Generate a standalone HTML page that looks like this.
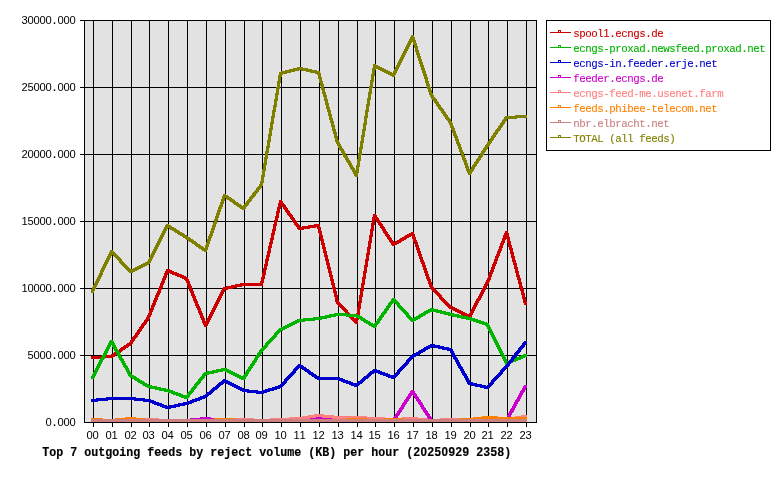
<!DOCTYPE html>
<html><head><meta charset="utf-8"><title>Top 7 outgoing feeds by reject volume</title>
<style>
html,body{margin:0;padding:0;background:#fff;}
body{width:780px;height:480px;overflow:hidden;font-family:"Liberation Mono",monospace;}
svg{display:block;will-change:transform;}
text{font-family:"Liberation Mono",monospace;}
.lbl{font-size:10px;fill:#000;}
.leg{font-size:10px;}
.ttl{font-size:11.667px;font-weight:bold;fill:#000;}
.sans{font-family:"Liberation Sans",sans-serif;}
.lbl .sans{font-size:11.2px;}
</style></head><body>
<svg width="780" height="480" viewBox="0 0 780 480">
<rect x="0" y="0" width="780" height="480" fill="#ffffff"/>
<rect x="84" y="20" width="453" height="403" fill="#e2e2e2"/>
<g stroke="#000" stroke-width="1" shape-rendering="crispEdges" fill="none">
<line x1="84" y1="422.5" x2="537" y2="422.5"/>
<line x1="80" y1="355.5" x2="537" y2="355.5"/>
<line x1="80" y1="288.5" x2="537" y2="288.5"/>
<line x1="80" y1="221.5" x2="537" y2="221.5"/>
<line x1="80" y1="154.5" x2="537" y2="154.5"/>
<line x1="80" y1="87.5" x2="537" y2="87.5"/>
<line x1="80" y1="20.5" x2="537" y2="20.5"/>
<line x1="93.5" y1="20" x2="93.5" y2="427"/>
<line x1="112.5" y1="20" x2="112.5" y2="427"/>
<line x1="131.5" y1="20" x2="131.5" y2="427"/>
<line x1="149.5" y1="20" x2="149.5" y2="427"/>
<line x1="168.5" y1="20" x2="168.5" y2="427"/>
<line x1="187.5" y1="20" x2="187.5" y2="427"/>
<line x1="206.5" y1="20" x2="206.5" y2="427"/>
<line x1="225.5" y1="20" x2="225.5" y2="427"/>
<line x1="244.5" y1="20" x2="244.5" y2="427"/>
<line x1="262.5" y1="20" x2="262.5" y2="427"/>
<line x1="281.5" y1="20" x2="281.5" y2="427"/>
<line x1="300.5" y1="20" x2="300.5" y2="427"/>
<line x1="319.5" y1="20" x2="319.5" y2="427"/>
<line x1="338.5" y1="20" x2="338.5" y2="427"/>
<line x1="357.5" y1="20" x2="357.5" y2="427"/>
<line x1="375.5" y1="20" x2="375.5" y2="427"/>
<line x1="394.5" y1="20" x2="394.5" y2="427"/>
<line x1="413.5" y1="20" x2="413.5" y2="427"/>
<line x1="432.5" y1="20" x2="432.5" y2="427"/>
<line x1="451.5" y1="20" x2="451.5" y2="427"/>
<line x1="470.5" y1="20" x2="470.5" y2="427"/>
<line x1="488.5" y1="20" x2="488.5" y2="427"/>
<line x1="507.5" y1="20" x2="507.5" y2="427"/>
<line x1="526.5" y1="20" x2="526.5" y2="427"/>
<line x1="84.5" y1="20" x2="84.5" y2="423"/>
<line x1="536.5" y1="20" x2="536.5" y2="423"/>
</g>
<text class="lbl" y="0" transform="translate(0,425.5)" text-anchor="middle"><tspan class="sans" x="48.5">0</tspan><tspan font-weight="bold" x="54.5">.</tspan><tspan class="sans" x="60.5 66.5 72.5">000</tspan></text>
<text class="lbl" y="0" transform="translate(0,358.5)" text-anchor="middle"><tspan class="sans" x="30.5 36.5 42.5 48.5">5000</tspan><tspan font-weight="bold" x="54.5">.</tspan><tspan class="sans" x="60.5 66.5 72.5">000</tspan></text>
<text class="lbl" y="0" transform="translate(0,291.5)" text-anchor="middle"><tspan class="sans" x="24.5 30.5 36.5 42.5 48.5">10000</tspan><tspan font-weight="bold" x="54.5">.</tspan><tspan class="sans" x="60.5 66.5 72.5">000</tspan></text>
<text class="lbl" y="0" transform="translate(0,224.5)" text-anchor="middle"><tspan class="sans" x="24.5 30.5 36.5 42.5 48.5">15000</tspan><tspan font-weight="bold" x="54.5">.</tspan><tspan class="sans" x="60.5 66.5 72.5">000</tspan></text>
<text class="lbl" y="0" transform="translate(0,157.5)" text-anchor="middle"><tspan class="sans" x="24.5 30.5 36.5 42.5 48.5">20000</tspan><tspan font-weight="bold" x="54.5">.</tspan><tspan class="sans" x="60.5 66.5 72.5">000</tspan></text>
<text class="lbl" y="0" transform="translate(0,90.5)" text-anchor="middle"><tspan class="sans" x="24.5 30.5 36.5 42.5 48.5">25000</tspan><tspan font-weight="bold" x="54.5">.</tspan><tspan class="sans" x="60.5 66.5 72.5">000</tspan></text>
<text class="lbl" y="0" transform="translate(0,23.5)" text-anchor="middle"><tspan class="sans" x="24.5 30.5 36.5 42.5 48.5">30000</tspan><tspan font-weight="bold" x="54.5">.</tspan><tspan class="sans" x="60.5 66.5 72.5">000</tspan></text>
<text class="lbl" y="0" transform="translate(0,439)" text-anchor="middle"><tspan class="sans" x="89.7 95.7">00</tspan></text>
<text class="lbl" y="0" transform="translate(0,439)" text-anchor="middle"><tspan class="sans" x="108.7 114.7">01</tspan></text>
<text class="lbl" y="0" transform="translate(0,439)" text-anchor="middle"><tspan class="sans" x="127.7 133.7">02</tspan></text>
<text class="lbl" y="0" transform="translate(0,439)" text-anchor="middle"><tspan class="sans" x="145.7 151.7">03</tspan></text>
<text class="lbl" y="0" transform="translate(0,439)" text-anchor="middle"><tspan class="sans" x="164.7 170.7">04</tspan></text>
<text class="lbl" y="0" transform="translate(0,439)" text-anchor="middle"><tspan class="sans" x="183.7 189.7">05</tspan></text>
<text class="lbl" y="0" transform="translate(0,439)" text-anchor="middle"><tspan class="sans" x="202.7 208.7">06</tspan></text>
<text class="lbl" y="0" transform="translate(0,439)" text-anchor="middle"><tspan class="sans" x="221.7 227.7">07</tspan></text>
<text class="lbl" y="0" transform="translate(0,439)" text-anchor="middle"><tspan class="sans" x="240.7 246.7">08</tspan></text>
<text class="lbl" y="0" transform="translate(0,439)" text-anchor="middle"><tspan class="sans" x="258.7 264.7">09</tspan></text>
<text class="lbl" y="0" transform="translate(0,439)" text-anchor="middle"><tspan class="sans" x="277.7 283.7">10</tspan></text>
<text class="lbl" y="0" transform="translate(0,439)" text-anchor="middle"><tspan class="sans" x="296.7 302.7">11</tspan></text>
<text class="lbl" y="0" transform="translate(0,439)" text-anchor="middle"><tspan class="sans" x="315.7 321.7">12</tspan></text>
<text class="lbl" y="0" transform="translate(0,439)" text-anchor="middle"><tspan class="sans" x="334.7 340.7">13</tspan></text>
<text class="lbl" y="0" transform="translate(0,439)" text-anchor="middle"><tspan class="sans" x="353.7 359.7">14</tspan></text>
<text class="lbl" y="0" transform="translate(0,439)" text-anchor="middle"><tspan class="sans" x="371.7 377.7">15</tspan></text>
<text class="lbl" y="0" transform="translate(0,439)" text-anchor="middle"><tspan class="sans" x="390.7 396.7">16</tspan></text>
<text class="lbl" y="0" transform="translate(0,439)" text-anchor="middle"><tspan class="sans" x="409.7 415.7">17</tspan></text>
<text class="lbl" y="0" transform="translate(0,439)" text-anchor="middle"><tspan class="sans" x="428.7 434.7">18</tspan></text>
<text class="lbl" y="0" transform="translate(0,439)" text-anchor="middle"><tspan class="sans" x="447.7 453.7">19</tspan></text>
<text class="lbl" y="0" transform="translate(0,439)" text-anchor="middle"><tspan class="sans" x="466.7 472.7">20</tspan></text>
<text class="lbl" y="0" transform="translate(0,439)" text-anchor="middle"><tspan class="sans" x="484.7 490.7">21</tspan></text>
<text class="lbl" y="0" transform="translate(0,439)" text-anchor="middle"><tspan class="sans" x="503.7 509.7">22</tspan></text>
<text class="lbl" y="0" transform="translate(0,439)" text-anchor="middle"><tspan class="sans" x="522.7 528.7">23</tspan></text>
<path d="M91.5 356L110.5 355L112.5 355L112.5 358L93.5 359L91.5 359ZM110.5 355L129.5 342L131.5 342L131.5 345L112.5 358L110.5 358ZM129 342.5L147 316.5L150 316.5L150 318.5L132 344.5L129 344.5ZM147 316.5L166 269.5L169 269.5L169 271.5L150 318.5L147 318.5ZM166.5 269L168.5 269L187.5 277L187.5 280L185.5 280L166.5 272ZM185 277.5L188 277.5L207 324.5L207 326.5L204 326.5L185 279.5ZM204 324.5L223 287.5L226 287.5L226 289.5L207 326.5L204 326.5ZM223.5 287L242.5 283L244.5 283L244.5 286L225.5 290L223.5 290ZM242.5 283L262.5 283L262.5 286L242.5 286ZM260 283.5L279 200.5L282 200.5L282 202.5L263 285.5L260 285.5ZM279 200.5L282 200.5L301 227.5L301 229.5L298 229.5L279 202.5ZM298.5 227L317.5 224L319.5 224L319.5 227L300.5 230L298.5 230ZM317 224.5L320 224.5L339 301.5L339 303.5L336 303.5L317 226.5ZM336 301.5L339 301.5L358 321.5L358 323.5L355 323.5L336 303.5ZM355 321.5L373 214.5L376 214.5L376 216.5L358 323.5L355 323.5ZM373 214.5L376 214.5L395 243.5L395 245.5L392 245.5L373 216.5ZM392.5 243L411.5 232L413.5 232L413.5 235L394.5 246L392.5 246ZM411 232.5L414 232.5L433 286.5L433 288.5L430 288.5L411 234.5ZM430 286.5L433 286.5L452 306.5L452 308.5L449 308.5L430 288.5ZM449.5 306L451.5 306L470.5 315L470.5 318L468.5 318L449.5 309ZM468 315.5L486 281.5L489 281.5L489 283.5L471 317.5L468 317.5ZM486 281.5L505 231.5L508 231.5L508 233.5L489 283.5L486 283.5ZM505 231.5L508 231.5L527 302.5L527 304.5L524 304.5L505 233.5ZM91 356h3v3h-3ZM110 355h3v3h-3ZM129 342h3v3h-3ZM147 316h3v3h-3ZM166 269h3v3h-3ZM185 277h3v3h-3ZM204 324h3v3h-3ZM223 287h3v3h-3ZM242 283h3v3h-3ZM260 283h3v3h-3ZM279 200h3v3h-3ZM298 227h3v3h-3ZM317 224h3v3h-3ZM336 301h3v3h-3ZM355 321h3v3h-3ZM373 214h3v3h-3ZM392 243h3v3h-3ZM411 232h3v3h-3ZM430 286h3v3h-3ZM449 306h3v3h-3ZM468 315h3v3h-3ZM486 281h3v3h-3ZM505 231h3v3h-3ZM524 302h3v3h-3Z" fill="#cc0000" shape-rendering="crispEdges"/>
<path d="M91 376.5L110 340.5L113 340.5L113 342.5L94 378.5L91 378.5ZM110 340.5L113 340.5L132 374.5L132 376.5L129 376.5L110 342.5ZM129.5 374L131.5 374L149.5 385L149.5 388L147.5 388L129.5 377ZM147.5 385L149.5 385L168.5 389L168.5 392L166.5 392L147.5 388ZM166.5 389L168.5 389L187.5 396L187.5 399L185.5 399L166.5 392ZM185 396.5L204 372.5L207 372.5L207 374.5L188 398.5L185 398.5ZM204.5 372L223.5 368L225.5 368L225.5 371L206.5 375L204.5 375ZM223.5 368L225.5 368L244.5 377L244.5 380L242.5 380L223.5 371ZM242 377.5L260 349.5L263 349.5L263 351.5L245 379.5L242 379.5ZM260 349.5L279 328.5L282 328.5L282 330.5L263 351.5L260 351.5ZM279.5 328L298.5 319L300.5 319L300.5 322L281.5 331L279.5 331ZM298.5 319L317.5 317L319.5 317L319.5 320L300.5 322L298.5 322ZM317.5 317L336.5 313L338.5 313L338.5 316L319.5 320L317.5 320ZM336.5 313L338.5 313L357.5 314L357.5 317L355.5 317L336.5 316ZM355.5 314L357.5 314L375.5 325L375.5 328L373.5 328L355.5 317ZM373 325.5L392 298.5L395 298.5L395 300.5L376 327.5L373 327.5ZM392 298.5L395 298.5L414 319.5L414 321.5L411 321.5L392 300.5ZM411.5 319L430.5 308L432.5 308L432.5 311L413.5 322L411.5 322ZM430.5 308L432.5 308L451.5 313L451.5 316L449.5 316L430.5 311ZM449.5 313L451.5 313L470.5 317L470.5 320L468.5 320L449.5 316ZM468.5 317L470.5 317L488.5 323L488.5 326L486.5 326L468.5 320ZM486 323.5L489 323.5L508 362.5L508 364.5L505 364.5L486 325.5ZM505.5 362L524.5 354L526.5 354L526.5 357L507.5 365L505.5 365ZM91 376h3v3h-3ZM110 340h3v3h-3ZM129 374h3v3h-3ZM147 385h3v3h-3ZM166 389h3v3h-3ZM185 396h3v3h-3ZM204 372h3v3h-3ZM223 368h3v3h-3ZM242 377h3v3h-3ZM260 349h3v3h-3ZM279 328h3v3h-3ZM298 319h3v3h-3ZM317 317h3v3h-3ZM336 313h3v3h-3ZM355 314h3v3h-3ZM373 325h3v3h-3ZM392 298h3v3h-3ZM411 319h3v3h-3ZM430 308h3v3h-3ZM449 313h3v3h-3ZM468 317h3v3h-3ZM486 323h3v3h-3ZM505 362h3v3h-3ZM524 354h3v3h-3Z" fill="#00b400" shape-rendering="crispEdges"/>
<path d="M91.5 399L110.5 397L112.5 397L112.5 400L93.5 402L91.5 402ZM110.5 397L131.5 397L131.5 400L110.5 400ZM129.5 397L131.5 397L149.5 399L149.5 402L147.5 402L129.5 400ZM147.5 399L149.5 399L168.5 406L168.5 409L166.5 409L147.5 402ZM166.5 406L185.5 402L187.5 402L187.5 405L168.5 409L166.5 409ZM185.5 402L204.5 395L206.5 395L206.5 398L187.5 405L185.5 405ZM204.5 395L223.5 379L225.5 379L225.5 382L206.5 398L204.5 398ZM223.5 379L225.5 379L244.5 389L244.5 392L242.5 392L223.5 382ZM242.5 389L244.5 389L262.5 391L262.5 394L260.5 394L242.5 392ZM260.5 391L279.5 385L281.5 385L281.5 388L262.5 394L260.5 394ZM279 385.5L298 364.5L301 364.5L301 366.5L282 387.5L279 387.5ZM298.5 364L300.5 364L319.5 377L319.5 380L317.5 380L298.5 367ZM317.5 377L338.5 377L338.5 380L317.5 380ZM336.5 377L338.5 377L357.5 384L357.5 387L355.5 387L336.5 380ZM355.5 384L373.5 369L375.5 369L375.5 372L357.5 387L355.5 387ZM373.5 369L375.5 369L394.5 376L394.5 379L392.5 379L373.5 372ZM392 376.5L411 355.5L414 355.5L414 357.5L395 378.5L392 378.5ZM411.5 355L430.5 344L432.5 344L432.5 347L413.5 358L411.5 358ZM430.5 344L432.5 344L451.5 348L451.5 351L449.5 351L430.5 347ZM449 348.5L452 348.5L471 382.5L471 384.5L468 384.5L449 350.5ZM468.5 382L470.5 382L488.5 386L488.5 389L486.5 389L468.5 385ZM486 386.5L505 365.5L508 365.5L508 367.5L489 388.5L486 388.5ZM505 365.5L524 341.5L527 341.5L527 343.5L508 367.5L505 367.5ZM91 399h3v3h-3ZM110 397h3v3h-3ZM129 397h3v3h-3ZM147 399h3v3h-3ZM166 406h3v3h-3ZM185 402h3v3h-3ZM204 395h3v3h-3ZM223 379h3v3h-3ZM242 389h3v3h-3ZM260 391h3v3h-3ZM279 385h3v3h-3ZM298 364h3v3h-3ZM317 377h3v3h-3ZM336 377h3v3h-3ZM355 384h3v3h-3ZM373 369h3v3h-3ZM392 376h3v3h-3ZM411 355h3v3h-3ZM430 344h3v3h-3ZM449 348h3v3h-3ZM468 382h3v3h-3ZM486 386h3v3h-3ZM505 365h3v3h-3ZM524 341h3v3h-3Z" fill="#0000cc" shape-rendering="crispEdges"/>
<path d="M91.5 419L112.5 419L112.5 422L91.5 422ZM110.5 419L131.5 419L131.5 422L110.5 422ZM129.5 419L149.5 419L149.5 422L129.5 422ZM147.5 419L168.5 419L168.5 422L147.5 422ZM166.5 419L187.5 419L187.5 422L166.5 422ZM185.5 419L204.5 417L206.5 417L206.5 420L187.5 422L185.5 422ZM204.5 417L206.5 417L225.5 419L225.5 422L223.5 422L204.5 420ZM223.5 419L244.5 419L244.5 422L223.5 422ZM242.5 419L262.5 419L262.5 422L242.5 422ZM260.5 419L281.5 419L281.5 422L260.5 422ZM279.5 419L300.5 419L300.5 422L279.5 422ZM298.5 419L317.5 417L319.5 417L319.5 420L300.5 422L298.5 422ZM317.5 417L319.5 417L338.5 418L338.5 421L336.5 421L317.5 420ZM336.5 418L338.5 418L357.5 419L357.5 422L355.5 422L336.5 421ZM355.5 419L375.5 419L375.5 422L355.5 422ZM373.5 419L394.5 419L394.5 422L373.5 422ZM392 419.5L411 390.5L414 390.5L414 392.5L395 421.5L392 421.5ZM411 390.5L414 390.5L433 419.5L433 421.5L430 421.5L411 392.5ZM430.5 419L451.5 419L451.5 422L430.5 422ZM449.5 419L470.5 419L470.5 422L449.5 422ZM468.5 419L488.5 419L488.5 422L468.5 422ZM486.5 419L507.5 419L507.5 422L486.5 422ZM505 419.5L524 385L527 385L527 387L508 421.5L505 421.5ZM91 419h3v3h-3ZM110 419h3v3h-3ZM129 419h3v3h-3ZM147 419h3v3h-3ZM166 419h3v3h-3ZM185 419h3v3h-3ZM204 417h3v3h-3ZM223 419h3v3h-3ZM242 419h3v3h-3ZM260 419h3v3h-3ZM279 419h3v3h-3ZM298 419h3v3h-3ZM317 417h3v3h-3ZM336 418h3v3h-3ZM355 419h3v3h-3ZM373 419h3v3h-3ZM392 419h3v3h-3ZM411 390h3v3h-3ZM430 419h3v3h-3ZM449 419h3v3h-3ZM468 419h3v3h-3ZM486 419h3v3h-3ZM505 419h3v3h-3ZM524 384.5h3v3h-3Z" fill="#cc00cc" shape-rendering="crispEdges"/>
<path d="M91.5 419L112.5 419L112.5 422L91.5 422ZM110.5 419L129.5 418L131.5 418L131.5 421L112.5 422L110.5 422ZM129.5 418L149.5 418L149.5 421L129.5 421ZM147.5 418L149.5 418L168.5 419L168.5 422L166.5 422L147.5 421ZM166.5 419L187.5 419L187.5 422L166.5 422ZM185.5 419L206.5 419L206.5 422L185.5 422ZM204.5 419L225.5 419L225.5 422L204.5 422ZM223.5 419L242.5 418L244.5 418L244.5 421L225.5 422L223.5 422ZM242.5 418L244.5 418L262.5 419L262.5 422L260.5 422L242.5 421ZM260.5 419L279.5 418L281.5 418L281.5 421L262.5 422L260.5 422ZM279.5 418L298.5 417L300.5 417L300.5 420L281.5 421L279.5 421ZM298.5 417L317.5 414L319.5 414L319.5 417L300.5 420L298.5 420ZM317.5 414L319.5 414L338.5 416L338.5 419L336.5 419L317.5 417ZM336.5 416L357.5 416L357.5 419L336.5 419ZM355.5 416L357.5 416L375.5 417L375.5 420L373.5 420L355.5 419ZM373.5 417L375.5 417L394.5 418L394.5 421L392.5 421L373.5 420ZM392.5 418L411.5 417L413.5 417L413.5 420L394.5 421L392.5 421ZM411.5 417L413.5 417L432.5 419L432.5 422L430.5 422L411.5 420ZM430.5 419L449.5 418L451.5 418L451.5 421L432.5 422L430.5 422ZM449.5 418L451.5 418L470.5 419L470.5 422L468.5 422L449.5 421ZM468.5 419L488.5 419L488.5 422L468.5 422ZM486.5 419L505.5 418L507.5 418L507.5 421L488.5 422L486.5 422ZM505.5 418L524.5 415L526.5 415L526.5 418L507.5 421L505.5 421ZM91 419h3v3h-3ZM110 419h3v3h-3ZM129 418h3v3h-3ZM147 418h3v3h-3ZM166 419h3v3h-3ZM185 419h3v3h-3ZM204 419h3v3h-3ZM223 419h3v3h-3ZM242 418h3v3h-3ZM260 419h3v3h-3ZM279 418h3v3h-3ZM298 417h3v3h-3ZM317 414h3v3h-3ZM336 416h3v3h-3ZM355 416h3v3h-3ZM373 417h3v3h-3ZM392 418h3v3h-3ZM411 417h3v3h-3ZM430 419h3v3h-3ZM449 418h3v3h-3ZM468 419h3v3h-3ZM486 419h3v3h-3ZM505 418h3v3h-3ZM524 415h3v3h-3Z" fill="#ff8080" shape-rendering="crispEdges"/>
<path d="M91.5 418L93.5 418L112.5 419L112.5 422L110.5 422L91.5 421ZM110.5 419L129.5 417L131.5 417L131.5 420L112.5 422L110.5 422ZM129.5 417L131.5 417L149.5 419L149.5 422L147.5 422L129.5 420ZM147.5 419L168.5 419L168.5 422L147.5 422ZM166.5 419L187.5 419L187.5 422L166.5 422ZM185.5 419L206.5 419L206.5 422L185.5 422ZM204.5 419L223.5 418L225.5 418L225.5 421L206.5 422L204.5 422ZM223.5 418L225.5 418L244.5 419L244.5 422L242.5 422L223.5 421ZM242.5 419L262.5 419L262.5 422L242.5 422ZM260.5 419L281.5 419L281.5 422L260.5 422ZM279.5 419L300.5 419L300.5 422L279.5 422ZM298.5 419L319.5 419L319.5 422L298.5 422ZM317.5 419L338.5 419L338.5 422L317.5 422ZM336.5 419L355.5 418L357.5 418L357.5 421L338.5 422L336.5 422ZM355.5 418L357.5 418L375.5 419L375.5 422L373.5 422L355.5 421ZM373.5 419L392.5 418L394.5 418L394.5 421L375.5 422L373.5 422ZM392.5 418L394.5 418L413.5 419L413.5 422L411.5 422L392.5 421ZM411.5 419L432.5 419L432.5 422L411.5 422ZM430.5 419L451.5 419L451.5 422L430.5 422ZM449.5 419L468.5 418L470.5 418L470.5 421L451.5 422L449.5 422ZM468.5 418L486.5 416L488.5 416L488.5 419L470.5 421L468.5 421ZM486.5 416L488.5 416L507.5 417L507.5 420L505.5 420L486.5 419ZM505.5 417L526.5 417L526.5 420L505.5 420ZM91 418h3v3h-3ZM110 419h3v3h-3ZM129 417h3v3h-3ZM147 419h3v3h-3ZM166 419h3v3h-3ZM185 419h3v3h-3ZM204 419h3v3h-3ZM223 418h3v3h-3ZM242 419h3v3h-3ZM260 419h3v3h-3ZM279 419h3v3h-3ZM298 419h3v3h-3ZM317 419h3v3h-3ZM336 419h3v3h-3ZM355 418h3v3h-3ZM373 419h3v3h-3ZM392 418h3v3h-3ZM411 419h3v3h-3ZM430 419h3v3h-3ZM449 419h3v3h-3ZM468 418h3v3h-3ZM486 416h3v3h-3ZM505 417h3v3h-3ZM524 417h3v3h-3Z" fill="#ff8000" shape-rendering="crispEdges"/>
<path d="M91.5 419L112.5 419L112.5 422L91.5 422ZM110.5 419L131.5 419L131.5 422L110.5 422ZM129.5 419L149.5 419L149.5 422L129.5 422ZM147.5 419L168.5 419L168.5 422L147.5 422ZM166.5 419L187.5 419L187.5 422L166.5 422ZM185.5 419L206.5 419L206.5 422L185.5 422ZM204.5 419L225.5 419L225.5 422L204.5 422ZM223.5 419L244.5 419L244.5 422L223.5 422ZM242.5 419L262.5 419L262.5 422L242.5 422ZM260.5 419L281.5 419L281.5 422L260.5 422ZM279.5 419L300.5 419L300.5 422L279.5 422ZM298.5 419L319.5 419L319.5 422L298.5 422ZM317.5 419L338.5 419L338.5 422L317.5 422ZM336.5 419L357.5 419L357.5 422L336.5 422ZM355.5 419L375.5 419L375.5 422L355.5 422ZM373.5 419L394.5 419L394.5 422L373.5 422ZM392.5 419L413.5 419L413.5 422L392.5 422ZM411.5 419L432.5 419L432.5 422L411.5 422ZM430.5 419L451.5 419L451.5 422L430.5 422ZM449.5 419L470.5 419L470.5 422L449.5 422ZM468.5 419L488.5 419L488.5 422L468.5 422ZM486.5 419L507.5 419L507.5 422L486.5 422ZM505.5 419L526.5 419L526.5 422L505.5 422ZM91 419h3v3h-3ZM110 419h3v3h-3ZM129 419h3v3h-3ZM147 419h3v3h-3ZM166 419h3v3h-3ZM185 419h3v3h-3ZM204 419h3v3h-3ZM223 419h3v3h-3ZM242 419h3v3h-3ZM260 419h3v3h-3ZM279 419h3v3h-3ZM298 419h3v3h-3ZM317 419h3v3h-3ZM336 419h3v3h-3ZM355 419h3v3h-3ZM373 419h3v3h-3ZM392 419h3v3h-3ZM411 419h3v3h-3ZM430 419h3v3h-3ZM449 419h3v3h-3ZM468 419h3v3h-3ZM486 419h3v3h-3ZM505 419h3v3h-3ZM524 419h3v3h-3Z" fill="#cc8080" shape-rendering="crispEdges"/>
<path d="M91 290.5L110 250.5L113 250.5L113 252.5L94 292.5L91 292.5ZM110 250.5L113 250.5L132 270.5L132 272.5L129 272.5L110 252.5ZM129.5 270L147.5 261L149.5 261L149.5 264L131.5 273L129.5 273ZM147 261.5L166 224.5L169 224.5L169 226.5L150 263.5L147 263.5ZM166.5 224L168.5 224L187.5 236L187.5 239L185.5 239L166.5 227ZM185.5 236L187.5 236L206.5 249L206.5 252L204.5 252L185.5 239ZM204 249.5L223 194.5L226 194.5L226 196.5L207 251.5L204 251.5ZM223.5 194L225.5 194L244.5 207L244.5 210L242.5 210L223.5 197ZM242 207.5L260 183.5L263 183.5L263 185.5L245 209.5L242 209.5ZM260 183.5L279 72.5L282 72.5L282 74.5L263 185.5L260 185.5ZM279.5 72L298.5 67L300.5 67L300.5 70L281.5 75L279.5 75ZM298.5 67L300.5 67L319.5 71L319.5 74L317.5 74L298.5 70ZM317 71.5L320 71.5L339 141.5L339 143.5L336 143.5L317 73.5ZM336 141.5L339 141.5L358 174.5L358 176.5L355 176.5L336 143.5ZM355 174.5L373 64.5L376 64.5L376 66.5L358 176.5L355 176.5ZM373.5 64L375.5 64L394.5 74L394.5 77L392.5 77L373.5 67ZM392 74.5L411 35.5L414 35.5L414 37.5L395 76.5L392 76.5ZM411 35.5L414 35.5L433 94.5L433 96.5L430 96.5L411 37.5ZM430 94.5L433 94.5L452 121.5L452 123.5L449 123.5L430 96.5ZM449 121.5L452 121.5L471 172.5L471 174.5L468 174.5L449 123.5ZM468 172.5L486 144.5L489 144.5L489 146.5L471 174.5L468 174.5ZM486 144.5L505 116.5L508 116.5L508 118.5L489 146.5L486 146.5ZM505.5 116L524.5 115L526.5 115L526.5 118L507.5 119L505.5 119ZM91 290h3v3h-3ZM110 250h3v3h-3ZM129 270h3v3h-3ZM147 261h3v3h-3ZM166 224h3v3h-3ZM185 236h3v3h-3ZM204 249h3v3h-3ZM223 194h3v3h-3ZM242 207h3v3h-3ZM260 183h3v3h-3ZM279 72h3v3h-3ZM298 67h3v3h-3ZM317 71h3v3h-3ZM336 141h3v3h-3ZM355 174h3v3h-3ZM373 64h3v3h-3ZM392 74h3v3h-3ZM411 35h3v3h-3ZM430 94h3v3h-3ZM449 121h3v3h-3ZM468 172h3v3h-3ZM486 144h3v3h-3ZM505 116h3v3h-3ZM524 115h3v3h-3Z" fill="#808000" shape-rendering="crispEdges"/>
<rect x="546.5" y="20.5" width="224" height="130" fill="#fff" stroke="#000" stroke-width="1" shape-rendering="crispEdges"/>
<line x1="550" y1="32.5" x2="571" y2="32.5" stroke="#cc0000" stroke-width="1" shape-rendering="crispEdges"/>
<rect x="558.5" y="30.5" width="2" height="2" fill="#fff" stroke="#cc0000" stroke-width="1" shape-rendering="crispEdges"/>
<text class="leg" y="0" transform="translate(0,36.6) scale(1.08,1.05)" fill="#cc0000" text-anchor="middle" stroke="#cc0000" stroke-width="0.1"><tspan x="533.8 539.35 544.91 550.46 556.02">spool</tspan><tspan class="sans" x="561.57">1</tspan><tspan x="567.13 572.69 578.24 583.8 589.35 594.91 600.46 606.02 611.57">.ecngs.de</tspan></text>
<line x1="550" y1="47.5" x2="571" y2="47.5" stroke="#00b400" stroke-width="1" shape-rendering="crispEdges"/>
<rect x="558.5" y="45.5" width="2" height="2" fill="#fff" stroke="#00b400" stroke-width="1" shape-rendering="crispEdges"/>
<text class="leg" y="0" transform="translate(0,51.6) scale(1.08,1.05)" fill="#00b400" text-anchor="middle" stroke="#00b400" stroke-width="0.1"><tspan x="533.8 539.35 544.91 550.46 556.02 561.57 567.13 572.69 578.24 583.8 589.35 594.91 600.46 606.02 611.57 617.13 622.69 628.24 633.8 639.35 644.91 650.46 656.02 661.57 667.13 672.69 678.24 683.8 689.35 694.91 700.46 706.02">ecngs-proxad.newsfeed.proxad.net</tspan></text>
<line x1="550" y1="62.5" x2="571" y2="62.5" stroke="#0000cc" stroke-width="1" shape-rendering="crispEdges"/>
<rect x="558.5" y="60.5" width="2" height="2" fill="#fff" stroke="#0000cc" stroke-width="1" shape-rendering="crispEdges"/>
<text class="leg" y="0" transform="translate(0,66.6) scale(1.08,1.05)" fill="#0000cc" text-anchor="middle" stroke="#0000cc" stroke-width="0.1"><tspan x="533.8 539.35 544.91 550.46 556.02 561.57 567.13 572.69 578.24 583.8 589.35 594.91 600.46 606.02 611.57 617.13 622.69 628.24 633.8 639.35 644.91 650.46 656.02 661.57">ecngs-in.feeder.erje.net</tspan></text>
<line x1="550" y1="77.5" x2="571" y2="77.5" stroke="#cc00cc" stroke-width="1" shape-rendering="crispEdges"/>
<rect x="558.5" y="75.5" width="2" height="2" fill="#fff" stroke="#cc00cc" stroke-width="1" shape-rendering="crispEdges"/>
<text class="leg" y="0" transform="translate(0,81.6) scale(1.08,1.05)" fill="#cc00cc" text-anchor="middle" stroke="#cc00cc" stroke-width="0.1"><tspan x="533.8 539.35 544.91 550.46 556.02 561.57 567.13 572.69 578.24 583.8 589.35 594.91 600.46 606.02 611.57">feeder.ecngs.de</tspan></text>
<line x1="550" y1="92.5" x2="571" y2="92.5" stroke="#ff8080" stroke-width="1" shape-rendering="crispEdges"/>
<rect x="558.5" y="90.5" width="2" height="2" fill="#fff" stroke="#ff8080" stroke-width="1" shape-rendering="crispEdges"/>
<text class="leg" y="0" transform="translate(0,96.6) scale(1.08,1.05)" fill="#ff8080" text-anchor="middle" stroke="#ff8080" stroke-width="0.1"><tspan x="533.8 539.35 544.91 550.46 556.02 561.57 567.13 572.69 578.24 583.8 589.35 594.91 600.46 606.02 611.57 617.13 622.69 628.24 633.8 639.35 644.91 650.46 656.02 661.57 667.13">ecngs-feed-me.usenet.farm</tspan></text>
<line x1="550" y1="107.5" x2="571" y2="107.5" stroke="#ff8000" stroke-width="1" shape-rendering="crispEdges"/>
<rect x="558.5" y="105.5" width="2" height="2" fill="#fff" stroke="#ff8000" stroke-width="1" shape-rendering="crispEdges"/>
<text class="leg" y="0" transform="translate(0,111.6) scale(1.08,1.05)" fill="#ff8000" text-anchor="middle" stroke="#ff8000" stroke-width="0.1"><tspan x="533.8 539.35 544.91 550.46 556.02 561.57 567.13 572.69 578.24 583.8 589.35 594.91 600.46 606.02 611.57 617.13 622.69 628.24 633.8 639.35 644.91 650.46 656.02 661.57">feeds.phibee-telecom.net</tspan></text>
<line x1="550" y1="122.5" x2="571" y2="122.5" stroke="#cc8080" stroke-width="1" shape-rendering="crispEdges"/>
<rect x="558.5" y="120.5" width="2" height="2" fill="#fff" stroke="#cc8080" stroke-width="1" shape-rendering="crispEdges"/>
<text class="leg" y="0" transform="translate(0,126.6) scale(1.08,1.05)" fill="#cc8080" text-anchor="middle" stroke="#cc8080" stroke-width="0.1"><tspan x="533.8 539.35 544.91 550.46 556.02 561.57 567.13 572.69 578.24 583.8 589.35 594.91 600.46 606.02 611.57 617.13">nbr.elbracht.net</tspan></text>
<line x1="550" y1="137.5" x2="571" y2="137.5" stroke="#808000" stroke-width="1" shape-rendering="crispEdges"/>
<rect x="558.5" y="135.5" width="2" height="2" fill="#fff" stroke="#808000" stroke-width="1" shape-rendering="crispEdges"/>
<text class="leg" y="0" transform="translate(0,141.6) scale(1.08,1.05)" fill="#808000" text-anchor="middle" stroke="#808000" stroke-width="0.1"><tspan x="533.8 539.35 544.91 550.46 556.02 561.57 567.13 572.69 578.24 583.8 589.35 594.91 600.46 606.02 611.57 617.13 622.69">TOTAL (all feeds)</tspan></text>
<text class="ttl" y="0" transform="translate(0,456) scale(1.0,1.06)" text-anchor="middle" stroke="#000" stroke-width="0.15"><tspan x="45.7 52.7 59.7 66.7">Top </tspan><tspan class="sans" x="73.7 80.7">7 </tspan><tspan x="87.7 94.7 101.7 108.7 115.7 122.7 129.7 136.7 143.7 150.7 157.7 164.7 171.7 178.7 185.7 192.7 199.7 206.7 213.7 220.7 227.7 234.7 241.7 248.7 255.7 262.7 269.7 276.7 283.7 290.7 297.7 304.7 311.7 318.7 325.7 332.7 339.7 346.7 353.7 360.7 367.7 374.7 381.7 388.7 395.7 402.7 409.7">outgoing feeds by reject volume (KB) per hour (</tspan><tspan class="sans" x="416.7 423.7 430.7 437.7 444.7 451.7 458.7 465.7 472.7 479.7 486.7 493.7 500.7">20250929 2358</tspan><tspan x="507.7">)</tspan></text>
</svg></body></html>
